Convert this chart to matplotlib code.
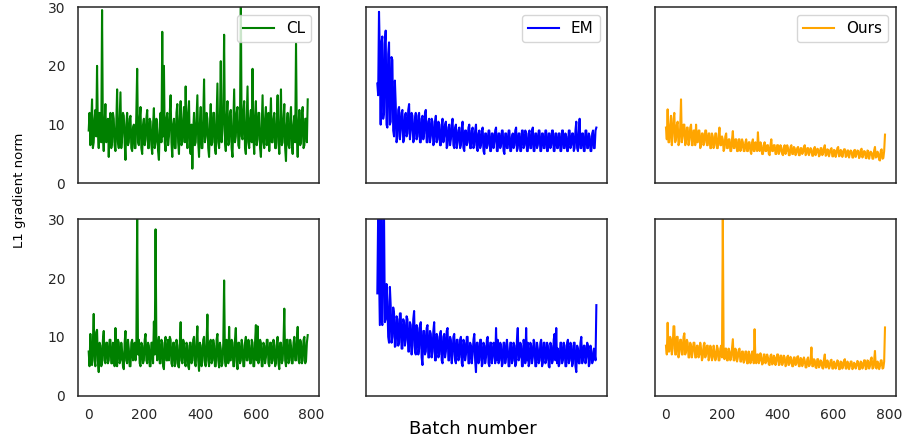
#!/usr/bin/env python
import numpy as np
import matplotlib
matplotlib.use('Agg')
import matplotlib.pyplot as plt

# gradient norm per batch (one value every 3 batches)
step = 3

cl_top = [9, 12, 6.5, 10, 14.3, 6, 7, 11, 12.5, 8, 20, 9, 6, 12, 11, 7, 29.5, 8, 5.5, 10, 13.5, 7, 8, 11,
          4.5, 10, 12, 6, 7, 12, 11, 6.5, 5.5, 10, 16, 7, 6, 11, 15.5, 6, 8, 12, 11.5, 7, 4, 10, 12, 6.5,
          7, 11, 11.5, 6, 5.5, 9.5, 10, 6, 6, 12, 19.5, 7, 6.5, 11, 13, 6, 5, 10, 11, 6.5, 7.5, 11, 12.5, 6,
          6, 11, 10.5, 6.5, 5, 10, 12.8, 6, 7, 11, 9, 5.5, 4, 10, 12, 7, 25.8, 8, 20, 7, 5.5, 11, 12, 6.5,
          8, 12, 15, 7, 4.5, 10, 11, 6, 6, 12, 13.5, 7, 5, 11, 14, 6.5, 7, 11, 13, 7, 16.5, 8, 6, 12,
          14, 6, 5, 10, 2.5, 9, 12, 6.5, 7, 11, 15, 7, 4.5, 10, 13, 6, 6, 11, 17.7, 7, 8, 12, 11, 6,
          4.5, 10, 13.5, 6.5, 7, 12, 12, 6, 5, 11, 17, 7, 6, 11, 20.8, 7, 9, 12, 25.3, 7, 5.5, 11, 14, 6.5,
          7, 12, 12.5, 6, 4.5, 10, 16, 7, 8, 12, 13, 6.5, 6, 11, 31, 8, 7.5, 12, 14, 6, 5, 11, 16.5, 7,
          6, 11, 12.5, 7, 19.5, 8, 5, 11, 14, 6.5, 7.5, 12, 12, 6, 4.5, 10, 15, 7, 6, 11, 13, 6.5, 8, 12,
          5.5, 10, 14.5, 7, 7, 11, 12, 6, 6, 11, 15, 7, 5, 10, 16, 6.5, 7, 11, 13.5, 6, 3.8, 10, 12, 6.5,
          6, 11, 13, 6.5, 5, 10, 11.5, 7, 23.8, 8, 4.5, 10, 12.5, 6.5, 7, 12, 13, 6, 6.5, 11, 11, 7, 14.3]

em_top = [17, 15, 29.2, 22, 10, 24, 25, 11, 12, 23.8, 26, 10, 9.5, 22, 24, 10, 10.5, 21.5, 21, 9, 8, 17.5, 13.5, 7,
          8, 12.5, 13, 7.5, 9, 12, 12.5, 7, 7.5, 11.5, 12, 8, 8.5, 12.5, 13.5, 7.5, 9, 12, 11.5, 7, 7.5, 11, 12, 7.5,
          8, 11.5, 12, 7, 7, 11, 11.5, 7.5, 8.5, 12, 12.5, 7, 7, 10.5, 11, 7, 8, 11, 10.5, 6.5, 7, 10.5, 11.5, 7,
          7.5, 10.5, 10, 6.5, 6.5, 10, 11, 7, 8, 10, 10.5, 6, 6.5, 9.5, 10, 6.5, 7.5, 10, 11, 6.5, 6, 9.5, 10, 6,
          7, 9, 9.5, 6, 6.5, 9.5, 10.5, 6, 5.5, 9, 9, 6.5, 7, 9.5, 10, 6, 6, 9, 9.5, 6, 6.5, 9, 10, 6,
          5.5, 8.5, 9, 6, 6.5, 9, 9.5, 5.5, 5, 8.5, 8.5, 6, 6.5, 9, 9, 5.5, 5.5, 8.5, 8.5, 6, 7, 9, 9.5, 5.5,
          5.5, 8.5, 8.5, 6, 6.5, 9, 9, 5.5, 5, 8.5, 8.5, 6, 6, 9, 9, 5.5, 5.5, 8, 8.5, 6, 6.5, 9, 9.5, 5.5,
          6, 8.5, 8.5, 5.5, 5.5, 9, 9, 6, 6.5, 9, 8.5, 5.5, 5.5, 8.5, 9, 6, 6, 9, 9.5, 5.5, 5.5, 8.5, 8.5, 6,
          6.5, 9, 9, 5.5, 5.5, 8.5, 8.5, 6, 6, 9, 9, 5.5, 5.5, 8.5, 8.5, 6, 6.5, 9, 9, 5.5, 5.5, 8.5, 8.5, 6,
          6, 8.5, 8.5, 5.5, 5.5, 9, 9, 6, 6, 8.5, 8, 5.5, 5.5, 9, 9, 6, 6.5, 8.5, 8.5, 5.5, 6, 9, 10.5, 6,
          5.5, 8.5, 11, 6, 6, 8.5, 8.5, 5.5, 5.5, 9, 9, 6, 6, 8.5, 8, 5.5, 5.5, 8.5, 9, 6, 6, 9, 9.5]

ours_top = [9.5, 7.5, 12.6, 7, 7, 10, 11.5, 6.5, 8, 11, 12, 7, 7.5, 10, 10.5, 6.5, 7, 9.5, 14.3, 7, 8, 10, 10, 6.5,
            7, 9.5, 9.5, 6.5, 7.5, 9.5, 10, 6.5, 6.5, 9, 9, 6.5, 10, 7, 7, 9, 9, 6, 6.5, 8.5, 8.5, 6.5, 7, 9,
            9, 6.5, 6.5, 8.5, 8.5, 6, 6, 8.5, 8, 6, 6.5, 8.5, 8.5, 6, 6, 8, 9.5, 6.5, 6.5, 8, 7.5, 5.5, 6, 8,
            8.5, 6, 6, 7.5, 7.5, 5.5, 5.5, 7.5, 8.9, 6, 6, 7.5, 7.5, 5.5, 5.5, 7.5, 7.5, 5.5, 6, 7.5, 7, 5.5, 5.5, 7,
            7.5, 5.5, 5.5, 7, 7, 5.5, 5, 7, 7.5, 5.5, 5.5, 7, 6.5, 5.5, 8.7, 6, 5.5, 7, 6.5, 5, 5, 6.5, 7, 5.5,
            5.5, 6.5, 6.5, 5, 4.8, 6.5, 7.5, 5.5, 5.5, 6.5, 6.5, 5, 5, 6.5, 6.5, 5, 5.5, 6.5, 6, 5, 4.8, 6.2, 6.5, 5,
            5.5, 6.5, 6, 4.8, 4.8, 6.2, 6.5, 5, 5, 6.2, 6, 4.8, 5.2, 6, 6.2, 4.8, 4.8, 6, 6, 5, 5.3, 6.2, 6.5, 4.8,
            5, 6, 6, 4.8, 5.3, 6, 5.8, 4.7, 4.7, 5.8, 6.2, 4.8, 5.2, 5.9, 5.8, 4.6, 4.8, 6, 6, 4.8, 5.1, 6, 6.5, 4.7,
            4.8, 5.8, 5.7, 4.6, 5.2, 5.8, 6, 4.6, 4.6, 5.7, 5.6, 4.5, 5.1, 6, 6.2, 4.6, 4.7, 5.7, 5.5, 4.5, 5.2, 5.8, 5.8, 4.5,
            4.6, 5.6, 5.6, 4.4, 5.1, 5.6, 5.4, 4.4, 4.4, 5.6, 5.7, 4.5, 5, 5.6, 5.5, 4.3, 4.6, 5.7, 5.9, 4.4, 4.8, 5.5, 5.4, 4.3,
            4.3, 5.6, 5.5, 4.2, 4.9, 5.4, 5.2, 4.2, 4.2, 5.6, 6.2, 4.4, 4.5, 5.4, 5.1, 4, 3.9, 5.6, 5.8, 4.2, 4.3, 5.5, 8.3]

cl_bot = [7.5, 5, 10.5, 6, 5.2, 9, 13.9, 6, 5, 10.8, 11.2, 6, 4, 9, 8.5, 5, 5.5, 9.5, 11, 6, 5.5, 9, 9, 5.5,
          6, 9.5, 9.5, 5.5, 5.5, 9, 8.5, 5, 11.5, 6, 5, 9.5, 9, 5.5, 6, 9, 7.5, 5, 4.5, 9, 11, 6, 5.5, 9.5,
          8, 5, 5, 9, 9.5, 6, 6.5, 9, 6, 8.5, 30.5, 7, 9.5, 5.5, 5, 9, 8.5, 5.5, 6, 9.5, 10.5, 6, 5.5, 9,
          8.5, 5, 5, 9, 9, 5.5, 12.6, 7, 28.3, 8, 6, 9, 10, 5.5, 5.5, 9.5, 9, 5, 4.5, 9, 10, 6, 6, 9.5,
          6, 10, 9.5, 5.5, 5, 9, 9, 5, 5.5, 9.5, 8.5, 5, 4.8, 9, 12.5, 6, 5.5, 9.5, 9, 5.5, 5, 9, 8.5, 5,
          4.5, 9, 9, 5.5, 6, 9.5, 10, 5.5, 5, 9, 11.8, 6, 4.2, 9, 8.5, 5, 6, 9.5, 10, 5.5, 5, 9, 13.8, 6,
          5, 9, 9.5, 5.5, 6, 9.5, 8.5, 5, 5, 9.5, 10.5, 6, 4.8, 9, 8, 5, 5.5, 9, 19.6, 6, 5, 9.5, 9, 5.5,
          11.7, 6, 6, 9.5, 9, 5, 5, 9.5, 11.5, 6, 4.5, 9, 9, 5.5, 6, 9.5, 8.5, 5, 5, 9, 10, 6, 6, 9.5,
          8.5, 5.5, 5.5, 9.5, 9, 5, 5, 9, 12, 6, 11.8, 5.5, 6, 9.5, 9, 5, 5, 9, 8.5, 5.5, 6.5, 9.5, 9.5, 5.5,
          5, 9, 9, 5.5, 6, 9.5, 8.5, 5, 5.5, 9, 10, 5.5, 4.5, 9, 9, 5.5, 6, 9, 14.8, 6, 5, 9.5, 9.5, 5.5,
          6, 9.5, 8.5, 5.5, 5.5, 9, 10, 6, 6, 9.5, 11.7, 6, 5.5, 9.5, 9, 5.5, 6, 9.5, 10, 5.5, 6, 9, 10.3]

em_bot = [17.4, 31, 22, 12, 31, 13, 12, 32, 31, 12.5, 13, 19, 16, 10, 9, 18.5, 15.3, 9, 10, 15, 14, 8.3, 8.5, 13.5,
          13, 8.5, 9, 14, 14, 8, 8, 13, 12.5, 8.5, 9.5, 13.5, 13, 7.5, 7.5, 12.5, 12, 7, 8.5, 13, 14.4, 7.5, 7, 12,
          11.5, 7, 8, 12, 12.5, 6.5, 5.2, 11, 11, 7, 7.5, 11.5, 12, 6.5, 6.5, 11, 10.5, 6.5, 7.5, 11, 12.5, 6, 6, 10.5,
          10, 6.5, 7, 10.5, 11, 6, 5.5, 10, 10.5, 6.5, 7.5, 11, 11.5, 6, 6, 10, 9.5, 5.5, 7, 10, 10.5, 6, 5.5, 9.5,
          9.5, 6, 6.5, 9.5, 10, 5.5, 5, 9.5, 9, 6, 7, 10, 10, 5.5, 5.5, 9, 8.5, 5.5, 7, 9.5, 10.5, 6, 4, 9,
          9, 5.5, 6, 9.5, 9.5, 5, 5.5, 9, 8.5, 5.5, 6.5, 9.5, 10, 5.5, 5, 9, 9, 5.5, 6.5, 9, 8.5, 5.5, 11.5, 6,
          9.5, 5.5, 6, 9, 8.5, 5, 5.5, 9, 9, 5.5, 6.5, 9.5, 8, 5, 5, 9, 9, 5.5, 6, 9, 8.5, 5, 5.5, 9.5,
          11.5, 6, 6.5, 9, 8.5, 5, 5, 9.5, 8, 5.5, 11.5, 6, 9, 5, 5.5, 9, 8.5, 5.5, 6.5, 9.5, 9, 5, 5, 9,
          8, 5.5, 6, 9, 9.5, 5, 5.5, 9, 9, 5.5, 6, 9, 8.5, 5, 4.8, 9, 8.5, 5.5, 6, 9.5, 10.5, 6, 11.5, 5.5,
          8, 5, 5.5, 9, 9, 5.5, 6, 9, 8.5, 5, 5, 9, 9.5, 5.5, 6, 9, 8.5, 5, 5.5, 9, 9, 5, 4, 8.5,
          8, 5.5, 5.5, 9, 10, 5.5, 6, 8.5, 8.5, 5.5, 6.5, 9, 8.5, 5, 5.5, 8.5, 7.5, 5.5, 6, 8, 7, 6, 15.4]

ours_bot = [8.5, 7, 12.4, 7.5, 7.5, 10, 9.5, 7, 8, 11.8, 11.8, 7, 7, 10, 10, 6.5, 7.5, 9.5, 9.5, 7, 7, 10, 10.6, 7,
            7.5, 9.5, 9, 6.5, 6.5, 9, 8.5, 6.5, 7.5, 9, 9, 6.5, 6.5, 8.5, 8.5, 6.5, 7, 9, 8, 6, 6.5, 8.5, 9, 6.5,
            7, 8.5, 8.5, 6, 6.5, 8.5, 8, 6, 6.5, 8.5, 7.5, 6, 6.5, 8.5, 8, 6, 6, 8, 8.5, 6.5, 30.5, 7, 6.2, 8,
            8, 6, 6, 8, 7.5, 6, 6.5, 8, 9.6, 6, 6, 8, 7.5, 5.8, 6.5, 7.8, 8, 5.8, 5.8, 7.5, 7.5, 5.6, 6, 7.5,
            7.5, 5.5, 5.5, 7.5, 7, 5.5, 6, 7.5, 7.5, 5.5, 11.3, 6, 5.5, 7, 7, 5.5, 6, 7.2, 6.5, 5.3, 5.5, 7, 7, 5.5,
            5.8, 7, 6.5, 5.3, 5.2, 6.8, 7, 5.3, 5.5, 6.8, 6.5, 5.2, 5.8, 7, 7, 5.2, 5.3, 6.8, 6.8, 5.2, 5.6, 6.8, 6.5, 5,
            5.2, 6.6, 6.8, 5.2, 5.5, 6.6, 6.2, 5, 5, 6.5, 6.5, 5.2, 5.4, 6.6, 6.7, 5, 5, 6.4, 6.3, 5, 5.5, 6.5, 6, 4.8,
            4.8, 6.2, 6.5, 5, 5.2, 6, 8.2, 5, 5, 6.2, 6, 4.8, 4.7, 6.2, 6.2, 4.8, 5.1, 6, 5.8, 4.7, 4.6, 6.2, 7, 4.8,
            4.8, 6, 5.6, 4.6, 5, 6, 6.1, 4.6, 4.6, 5.8, 5.5, 4.6, 5.1, 6, 5.8, 4.5, 4.5, 5.8, 5.7, 4.6, 5, 6, 6.2, 4.6,
            4.6, 5.8, 5.5, 4.5, 5, 5.8, 5.8, 4.5, 4.7, 5.6, 5.4, 4.6, 5.1, 5.9, 5.7, 4.5, 4.5, 5.8, 5.6, 4.6, 5, 6, 6, 4.5,
            4.6, 6, 5.8, 4.6, 5, 6.2, 6.5, 4.6, 4.7, 6, 7.6, 4.8, 4.6, 5.8, 5.5, 4.5, 5, 6, 6, 4.6, 4.7, 5.8, 11.6]

labels = ['CL', 'EM', 'Ours']
colors = ['green', 'blue', 'orange']
rows = [[cl_top, em_top, ours_top],
        [cl_bot, em_bot, ours_bot]]

plt.rcParams['font.family'] = 'DejaVu Sans'
plt.rcParams['font.size'] = 10

fig, axes = plt.subplots(2, 3, figsize=(9.05, 4.45), dpi=100)
fig.subplots_adjust(left=0.0859, right=0.990, bottom=0.111, top=0.984,
                    wspace=0.198, hspace=0.204)

for r in range(2):
    for c in range(3):
        ax = axes[r, c]
        y = np.array(rows[r][c])
        x = np.arange(len(y)) * step
        ax.plot(x, y, color=colors[c], linewidth=1.5, label=labels[c])
        ax.set_ylim(0, 30)
        for sp in ax.spines.values():
            sp.set_color('#262626')
            sp.set_linewidth(1.1)
        ax.tick_params(length=0, pad=9, labelsize=10, colors='#262626')
        if c == 0:
            ax.set_yticks([0, 10, 20, 30])
        else:
            ax.set_yticks([])
        if r == 1 and c != 1:
            ax.set_xticks([0, 200, 400, 600, 800])
        else:
            ax.set_xticks([])
        if r == 0:
            ax.legend(loc='upper right', fontsize=11)

fig.text(0.021, 0.572, 'L1 gradient norm', rotation=90, ha='center', va='center', fontsize=9.5)
fig.text(0.523, 0.036, 'Batch number', ha='center', va='center', fontsize=13)

plt.savefig('out.png')
plt.close()
